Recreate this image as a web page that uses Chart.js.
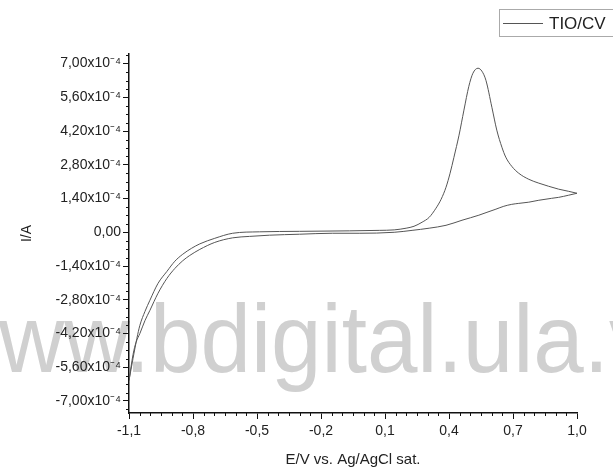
<!DOCTYPE html>
<html>
<head>
<meta charset="utf-8">
<script src="https://cdn.jsdelivr.net/npm/chart.js@4/dist/chart.umd.min.js"></script>
<style>
  html, body { margin: 0; padding: 0; background: #fff; }
  #wrap { width: 613px; height: 470px; position: relative; }
</style>
</head>
<body>
<div id="wrap"><canvas id="cv" width="613" height="470"></canvas></div>
<script>
// Cyclic voltammogram, current in units of 1e-4 A
const potentialForward = [-1.100, -1.081, -1.063, -1.049, -1.025, -1.002, -0.964, -0.922, -0.885, -0.848,
  -0.806, -0.768, -0.698, -0.614, -0.488, -0.301, -0.067, 0.073, 0.143, 0.199,
  0.236, 0.274, 0.307, 0.339, 0.363, 0.386, 0.405, 0.423, 0.447, 0.470,
  0.493, 0.512, 0.536, 0.554, 0.573, 0.601, 0.624, 0.648, 0.666, 0.694,
  0.727, 0.774, 0.821, 0.867, 0.914, 0.961, 1.000];
const currentForward = [-6.15, -5.23, -4.40, -3.86, -3.28, -2.82, -2.12, -1.62, -1.20, -0.91,
  -0.66, -0.48, -0.25, -0.04, 0.02, 0.04, 0.06, 0.08, 0.10, 0.17,
  0.25, 0.42, 0.62, 1.00, 1.37, 1.87, 2.45, 3.11, 4.03, 5.07,
  6.06, 6.60, 6.81, 6.69, 6.31, 5.19, 4.24, 3.53, 3.12, 2.74,
  2.45, 2.20, 2.04, 1.91, 1.79, 1.70, 1.62];
const potentialReverse = [1.000, 0.961, 0.914, 0.881, 0.821, 0.774, 0.727, 0.694, 0.657, 0.620,
  0.578, 0.540, 0.461, 0.386, 0.307, 0.227, 0.143, -0.021, -0.147, -0.301,
  -0.441, -0.535, -0.614, -0.698, -0.768, -0.815, -0.848, -0.885, -0.922, -0.964,
  -1.002, -1.025, -1.049, -1.067, -1.081, -1.100];
const currentReverse = [1.62, 1.54, 1.45, 1.41, 1.33, 1.25, 1.20, 1.16, 1.08, 0.96,
  0.83, 0.71, 0.50, 0.29, 0.17, 0.08, 0.00, -0.04, -0.04, -0.08,
  -0.12, -0.17, -0.23, -0.42, -0.71, -0.96, -1.18, -1.50, -1.91, -2.53,
  -3.24, -3.66, -4.20, -4.57, -5.07, -6.15];

const xTickValues = [-1.1, -0.8, -0.5, -0.2, 0.1, 0.4, 0.7, 1.0];
const yTickValues = [-7.0, -5.6, -4.2, -2.8, -1.4, 0.0, 1.4, 2.8, 4.2, 5.6, 7.0];
const seriesLabel = 'TIO/CV';
const xTitle = 'E/V vs. Ag/AgCl sat.';
const yTitle = 'I/A';
const watermarkText = 'www.bdigital.ula.ve';

const forwardPoints = potentialForward.map((v, i) => ({ x: v, y: currentForward[i] }));
const reversePoints = potentialReverse.map((v, i) => ({ x: v, y: currentReverse[i] }));

const FONT = 'Liberation Sans, Arial, sans-serif';
const LINE_COLOR = '#555';

function commaFixed(v, d) {
  return (Math.abs(v) < 1e-9 ? 0 : v).toFixed(d).replace('.', ',');
}

// large grey site name behind the plot
const watermarkPlugin = {
  id: 'watermark',
  beforeDraw(chart) {
    const ctx = chart.ctx;
    ctx.save();
    ctx.font = '96px ' + FONT;
    ctx.fillStyle = 'rgb(208,208,208)';
    ctx.textBaseline = 'alphabetic';
    const sx = 0.945;
    const lead = ctx.measureText('www.').width * sx;
    ctx.translate(150 - lead, 372);
    ctx.scale(sx, 1);
    ctx.fillText(watermarkText, 0, 0);
    ctx.restore();
  }
};

// minor ticks on both axes
const minorTicksPlugin = {
  id: 'minorTicks',
  afterDraw(chart) {
    const ctx = chart.ctx;
    const xs = chart.scales.x, ys = chart.scales.y;
    const area = chart.chartArea;
    ctx.save();
    ctx.strokeStyle = '#111';
    ctx.lineWidth = 1;
    ctx.beginPath();
    for (let k = 0; k <= 42; k++) {
      if (k % 6 === 0) continue;
      const v = -1.1 + k * 0.05;
      const px = Math.round(xs.getPixelForValue(v)) + 0.5;
      ctx.moveTo(px, area.bottom);
      ctx.lineTo(px, area.bottom + 3);
    }
    for (let k = -21; k <= 21; k++) {
      if (k % 4 === 0) continue;
      const v = k * 0.35;
      if (v < ys.min || v > ys.max) continue;
      const py = Math.round(ys.getPixelForValue(v)) + 0.5;
      ctx.moveTo(area.left, py);
      ctx.lineTo(area.left - 3, py);
    }
    ctx.stroke();
    ctx.restore();
  }
};

// framed legend in the top-right corner
const boxLegendPlugin = {
  id: 'boxLegend',
  afterDraw(chart) {
    const ctx = chart.ctx;
    const ds = chart.data.datasets[0];
    ctx.save();
    ctx.strokeStyle = '#aaa';
    ctx.lineWidth = 1;
    ctx.strokeRect(499.5, 9.5, 120, 27);
    ctx.strokeStyle = ds.borderColor;
    ctx.beginPath();
    ctx.moveTo(503, 23.5);
    ctx.lineTo(543, 23.5);
    ctx.stroke();
    ctx.fillStyle = '#222';
    ctx.font = '17px ' + FONT;
    ctx.textBaseline = 'middle';
    ctx.fillText(ds.label, 549, 24);
    ctx.restore();
  }
};

const branchStyle = {
  showLine: true,
  borderColor: LINE_COLOR,
  borderWidth: 1,
  pointRadius: 0,
  cubicInterpolationMode: 'monotone',
  fill: false
};

new Chart(document.getElementById('cv'), {
  type: 'scatter',
  data: {
    datasets: [
      Object.assign({ label: seriesLabel, data: forwardPoints }, branchStyle),
      Object.assign({ label: seriesLabel, data: reversePoints }, branchStyle)
    ]
  },
  options: {
    responsive: false,
    animation: false,
    devicePixelRatio: 1,
    layout: { padding: { top: 54, right: 36, bottom: 0, left: 0 } },
    plugins: {
      legend: { display: false },
      tooltip: { enabled: false }
    },
    scales: {
      x: {
        type: 'linear',
        min: -1.1,
        max: 1.0,
        afterBuildTicks(scale) { scale.ticks = xTickValues.map(v => ({ value: v })); },
        afterFit(scale) { scale.height = 57; },
        grid: { display: true, drawOnChartArea: false, drawTicks: true, tickLength: 6, tickColor: '#111', tickWidth: 1 },
        border: { display: true, color: '#111', width: 1.5 },
        ticks: {
          autoSkip: false, maxRotation: 0, minRotation: 0, padding: 4,
          color: '#222', font: { family: FONT, size: 14 },
          callback: v => commaFixed(v, 1)
        },
        title: {
          display: true, text: xTitle, color: '#222',
          font: { family: FONT, size: 15 },
          padding: { top: 0, bottom: 1 }
        }
      },
      y: {
        type: 'linear',
        min: -7.5,
        max: 7.4,
        afterBuildTicks(scale) { scale.ticks = yTickValues.map(v => ({ value: v })); },
        afterFit(scale) { scale.width = 129; },
        grid: { display: true, drawOnChartArea: false, drawTicks: true, tickLength: 6, tickColor: '#111', tickWidth: 1 },
        border: { display: true, color: '#111', width: 1.5 },
        ticks: {
          autoSkip: false, padding: 2,
          color: '#222', font: { family: FONT, size: 14 },
          callback: v => Math.abs(v) < 1e-9 ? '0,00' : commaFixed(v, 2) + 'x10\u207B\u2074'
        },
        title: {
          display: true, text: yTitle, color: '#222',
          font: { family: FONT, size: 14 },
          padding: { top: 19, bottom: 0 }
        }
      }
    }
  },
  plugins: [watermarkPlugin, minorTicksPlugin, boxLegendPlugin]
});
</script>
</body>
</html>
